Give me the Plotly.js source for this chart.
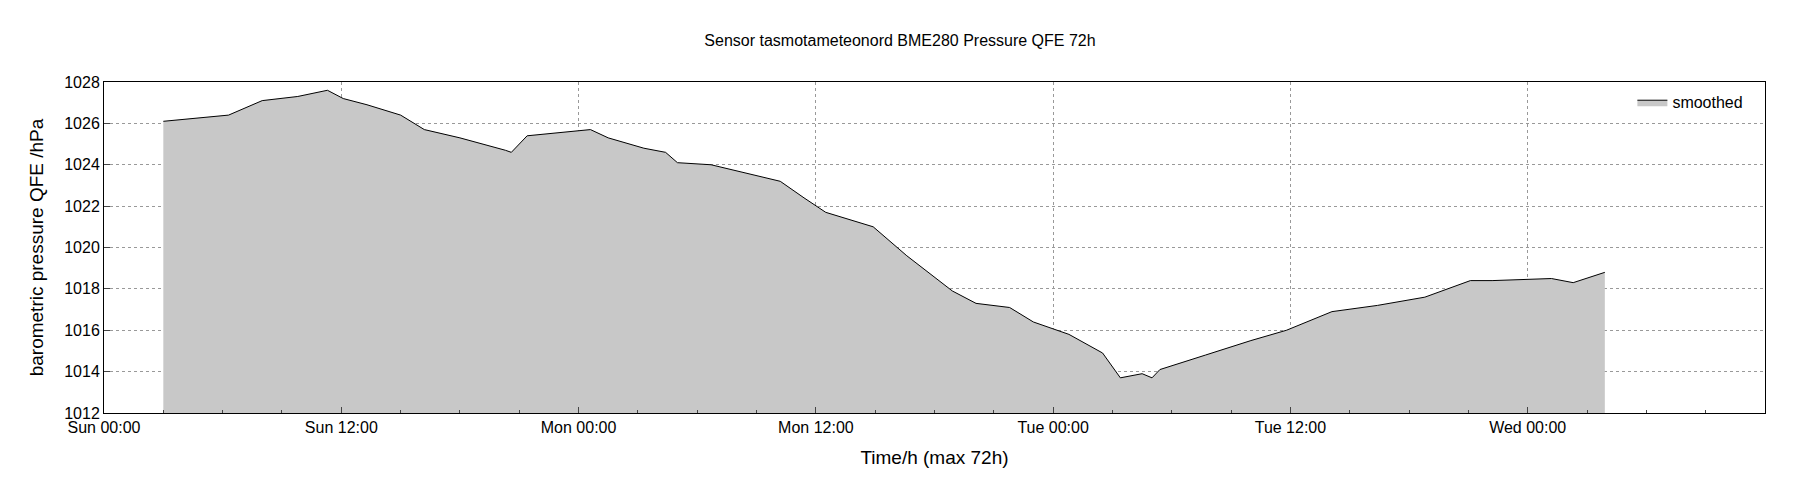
<!DOCTYPE html>
<html>
<head>
<script src="https://cdn.plot.ly/plotly-3.0.1.min.js"></script>
<style>body{margin:0;background:#fff}</style>
</head>
<body>
<div id="chart" style="width:1800px;height:500px"></div>
<script>
// hours since Sun 00:00
var hours = [3.0, 6.3, 8.0, 9.8, 11.3, 12.1, 13.3, 15.0, 16.2, 18.0, 20.3, 20.6, 21.4, 22.6, 24.6, 25.5,
  27.3, 28.4, 29.0, 30.7, 32.5, 34.2, 35.4, 36.5, 38.9, 40.6, 42.9, 44.1, 45.8, 47.0, 48.8, 50.5,
  51.4, 52.5, 53.0, 53.4, 55.7, 58.0, 59.8, 62.1, 64.4, 66.8, 69.1, 70.2, 73.2, 74.3, 75.9];
var pressure = [1026.1, 1026.4, 1027.1, 1027.3, 1027.6, 1027.2, 1026.9, 1026.4, 1025.7, 1025.3, 1024.7, 1024.6,
  1025.4, 1025.5, 1025.7, 1025.3, 1024.8, 1024.6, 1024.1, 1024.0, 1023.6, 1023.2, 1022.4, 1021.7, 1021.0,
  1019.6, 1017.9, 1017.3, 1017.1, 1016.4, 1015.8, 1014.9, 1013.7, 1013.9, 1013.7, 1014.1, 1014.8, 1015.5,
  1016.0, 1016.9, 1017.2, 1017.6, 1018.4, 1018.4, 1018.5, 1018.3, 1018.8];
var tickHours = [0, 12, 24, 36, 48, 60, 72, 84];
var tickLabels = ['Sun 00:00', 'Sun 12:00', 'Mon 00:00', 'Mon 12:00', 'Tue 00:00', 'Tue 12:00', 'Wed 00:00', 'Wed 12:00'];

var data = [{
  x: hours, y: pressure, type: 'scatter', mode: 'lines', name: 'smoothed',
  line: {color: '#000', width: 1}, fill: 'tozeroy', fillcolor: '#c8c8c8'
}];
var layout = {
  width: 1800, height: 500,
  font: {family: 'Liberation Sans, Arial', size: 16, color: '#000'},
  title: {text: 'Sensor tasmotameteonord BME280 Pressure QFE 72h', y: 0.93, font: {size: 16}},
  margin: {l: 104, r: 35, t: 82, b: 87},
  plot_bgcolor: '#fff', paper_bgcolor: '#fff',
  showlegend: true,
  legend: {x: 0.99, y: 0.99, xanchor: 'right', yanchor: 'top', bgcolor: 'rgba(0,0,0,0)'},
  xaxis: {
    range: [0, 84], tickvals: tickHours, ticktext: tickLabels, showline: true, mirror: true,
    linecolor: '#000', ticks: 'inside', ticklen: 6, showgrid: true, gridcolor: '#999',
    griddash: 'dot', zeroline: false,
    minor: {dtick: 3, ticks: 'inside', ticklen: 3, showgrid: false},
    title: {text: 'Time/h (max 72h)', standoff: 15}
  },
  yaxis: {
    range: [1012, 1028], dtick: 2, showline: true, mirror: true, linecolor: '#000',
    ticks: 'inside', ticklen: 6, showgrid: true, gridcolor: '#999', griddash: 'dot', zeroline: false,
    title: {text: 'barometric pressure QFE /hPa', standoff: 15}
  }
};
Plotly.newPlot('chart', data, layout, {displayModeBar: false});
</script>
</body>
</html>
